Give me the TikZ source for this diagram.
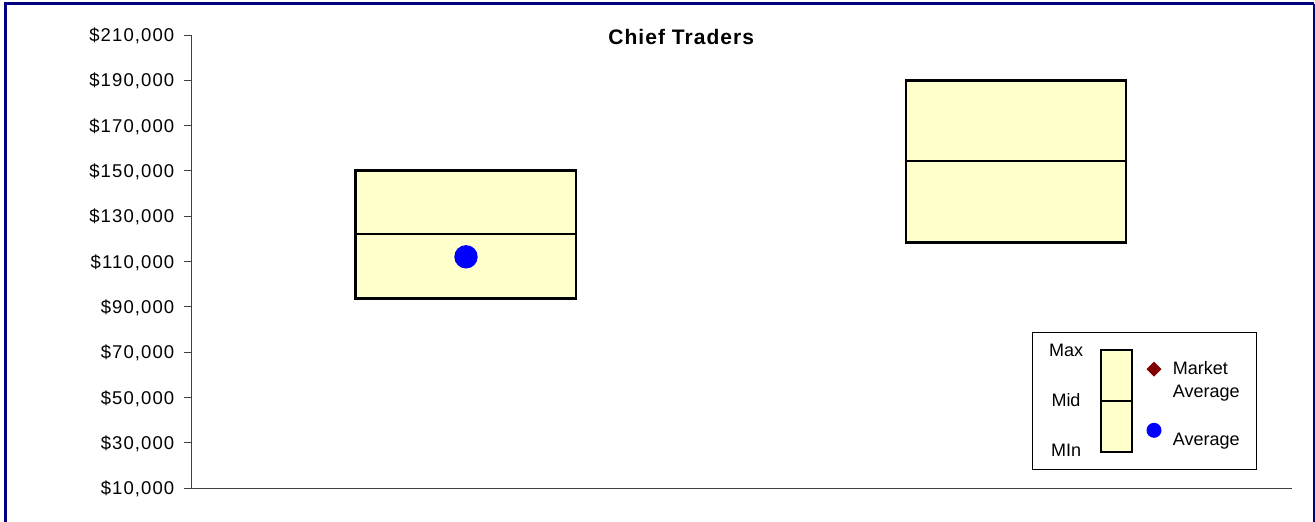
\documentclass[tikz,border=0pt]{standalone}
\usepackage{fontspec}
\setmainfont{Liberation Sans}
\definecolor{caixa}{HTML}{FFFFCC}
\definecolor{moldura}{HTML}{000080}
\definecolor{mercado}{HTML}{800000}
\tikzset{
  rotulo/.style={font=\fontsize{18.5}{21}\selectfont\addfontfeatures{LetterSpace=6}, anchor=base east, inner sep=0pt},
  legenda/.style={font=\fontsize{18}{21}\selectfont, inner sep=0pt},
  faixa/.style={fill=caixa, draw=black, line width=2.5pt},
  eixo/.style={black!75, line width=1pt},
}
\begin{document}
\begin{tikzpicture}[x=1pt,y=-1pt]
  \useasboundingbox (0,0) rectangle (1315,522);

  % moldura
  \draw[moldura, line width=3.5pt] (5.5,530) -- (5.5,3.5) -- (1314,3.5);
  \draw[moldura, line width=2pt] (1314,3.5) -- (1314,530);

  % eixos
  \coordinate (O) at (191,488.3);
  \coordinate (T) at (191,35);
  \coordinate (E) at (1292,488.3);
  \draw[eixo] (T) -- (O) -- (E);

  % marcas e valores
  \foreach \v [count=\i from 0] in {10,30,...,210} {
    \draw[eixo] (184,488.3-45.33*\i) -- (191,488.3-45.33*\i);
    \node[rotulo] (v\v) at (174.5,494.8-45.33*\i) {\$\v,000};
  }

  % título
  \node[font=\fontsize{21}{24}\selectfont\bfseries\addfontfeatures{LetterSpace=5}, anchor=base] (titulo) at (681.2,44) {Chief Traders};

  % caixas (mín, mid, máx)
  \filldraw[faixa] (355.7,170.7) rectangle (576,298.3);
  \draw[line width=2.5pt] (355.7,234) -- (576,234);
  \filldraw[faixa] (906,80.7) rectangle (1126,242.7);
  \draw[line width=2.5pt] (906,161) -- (1126,161);

  % média
  \fill[blue] (466,256.8) circle (11.7pt);

  % legenda
  \draw[black, line width=1pt] (1032,332) rectangle (1256,469);
  \filldraw[fill=caixa, draw=black, line width=2pt] (1101,350) rectangle (1132,452);
  \draw[line width=2pt] (1101,400.7) -- (1132,400.7);
  \node[legenda, anchor=base] (max) at (1066,356.7) {Max};
  \node[legenda, anchor=base] (mid) at (1066,406.7) {Mid};
  \node[legenda, anchor=base] (min) at (1066,456.7) {MIn};
  \fill[mercado] (1154,361.7) -- (1161.5,369.2) -- (1154,376.7) -- (1146.5,369.2) -- cycle;
  \fill[blue] (1154,430.3) circle (7.5pt);
  \node[legenda, anchor=base west] (mercadotxt) at (1172.7,374) {Market};
  \node[legenda, anchor=base west] (medmerc) at (1172.7,397.8) {Average};
  \node[legenda, anchor=base west] (medtxt) at (1172.7,445) {Average};
\end{tikzpicture}
\end{document}
